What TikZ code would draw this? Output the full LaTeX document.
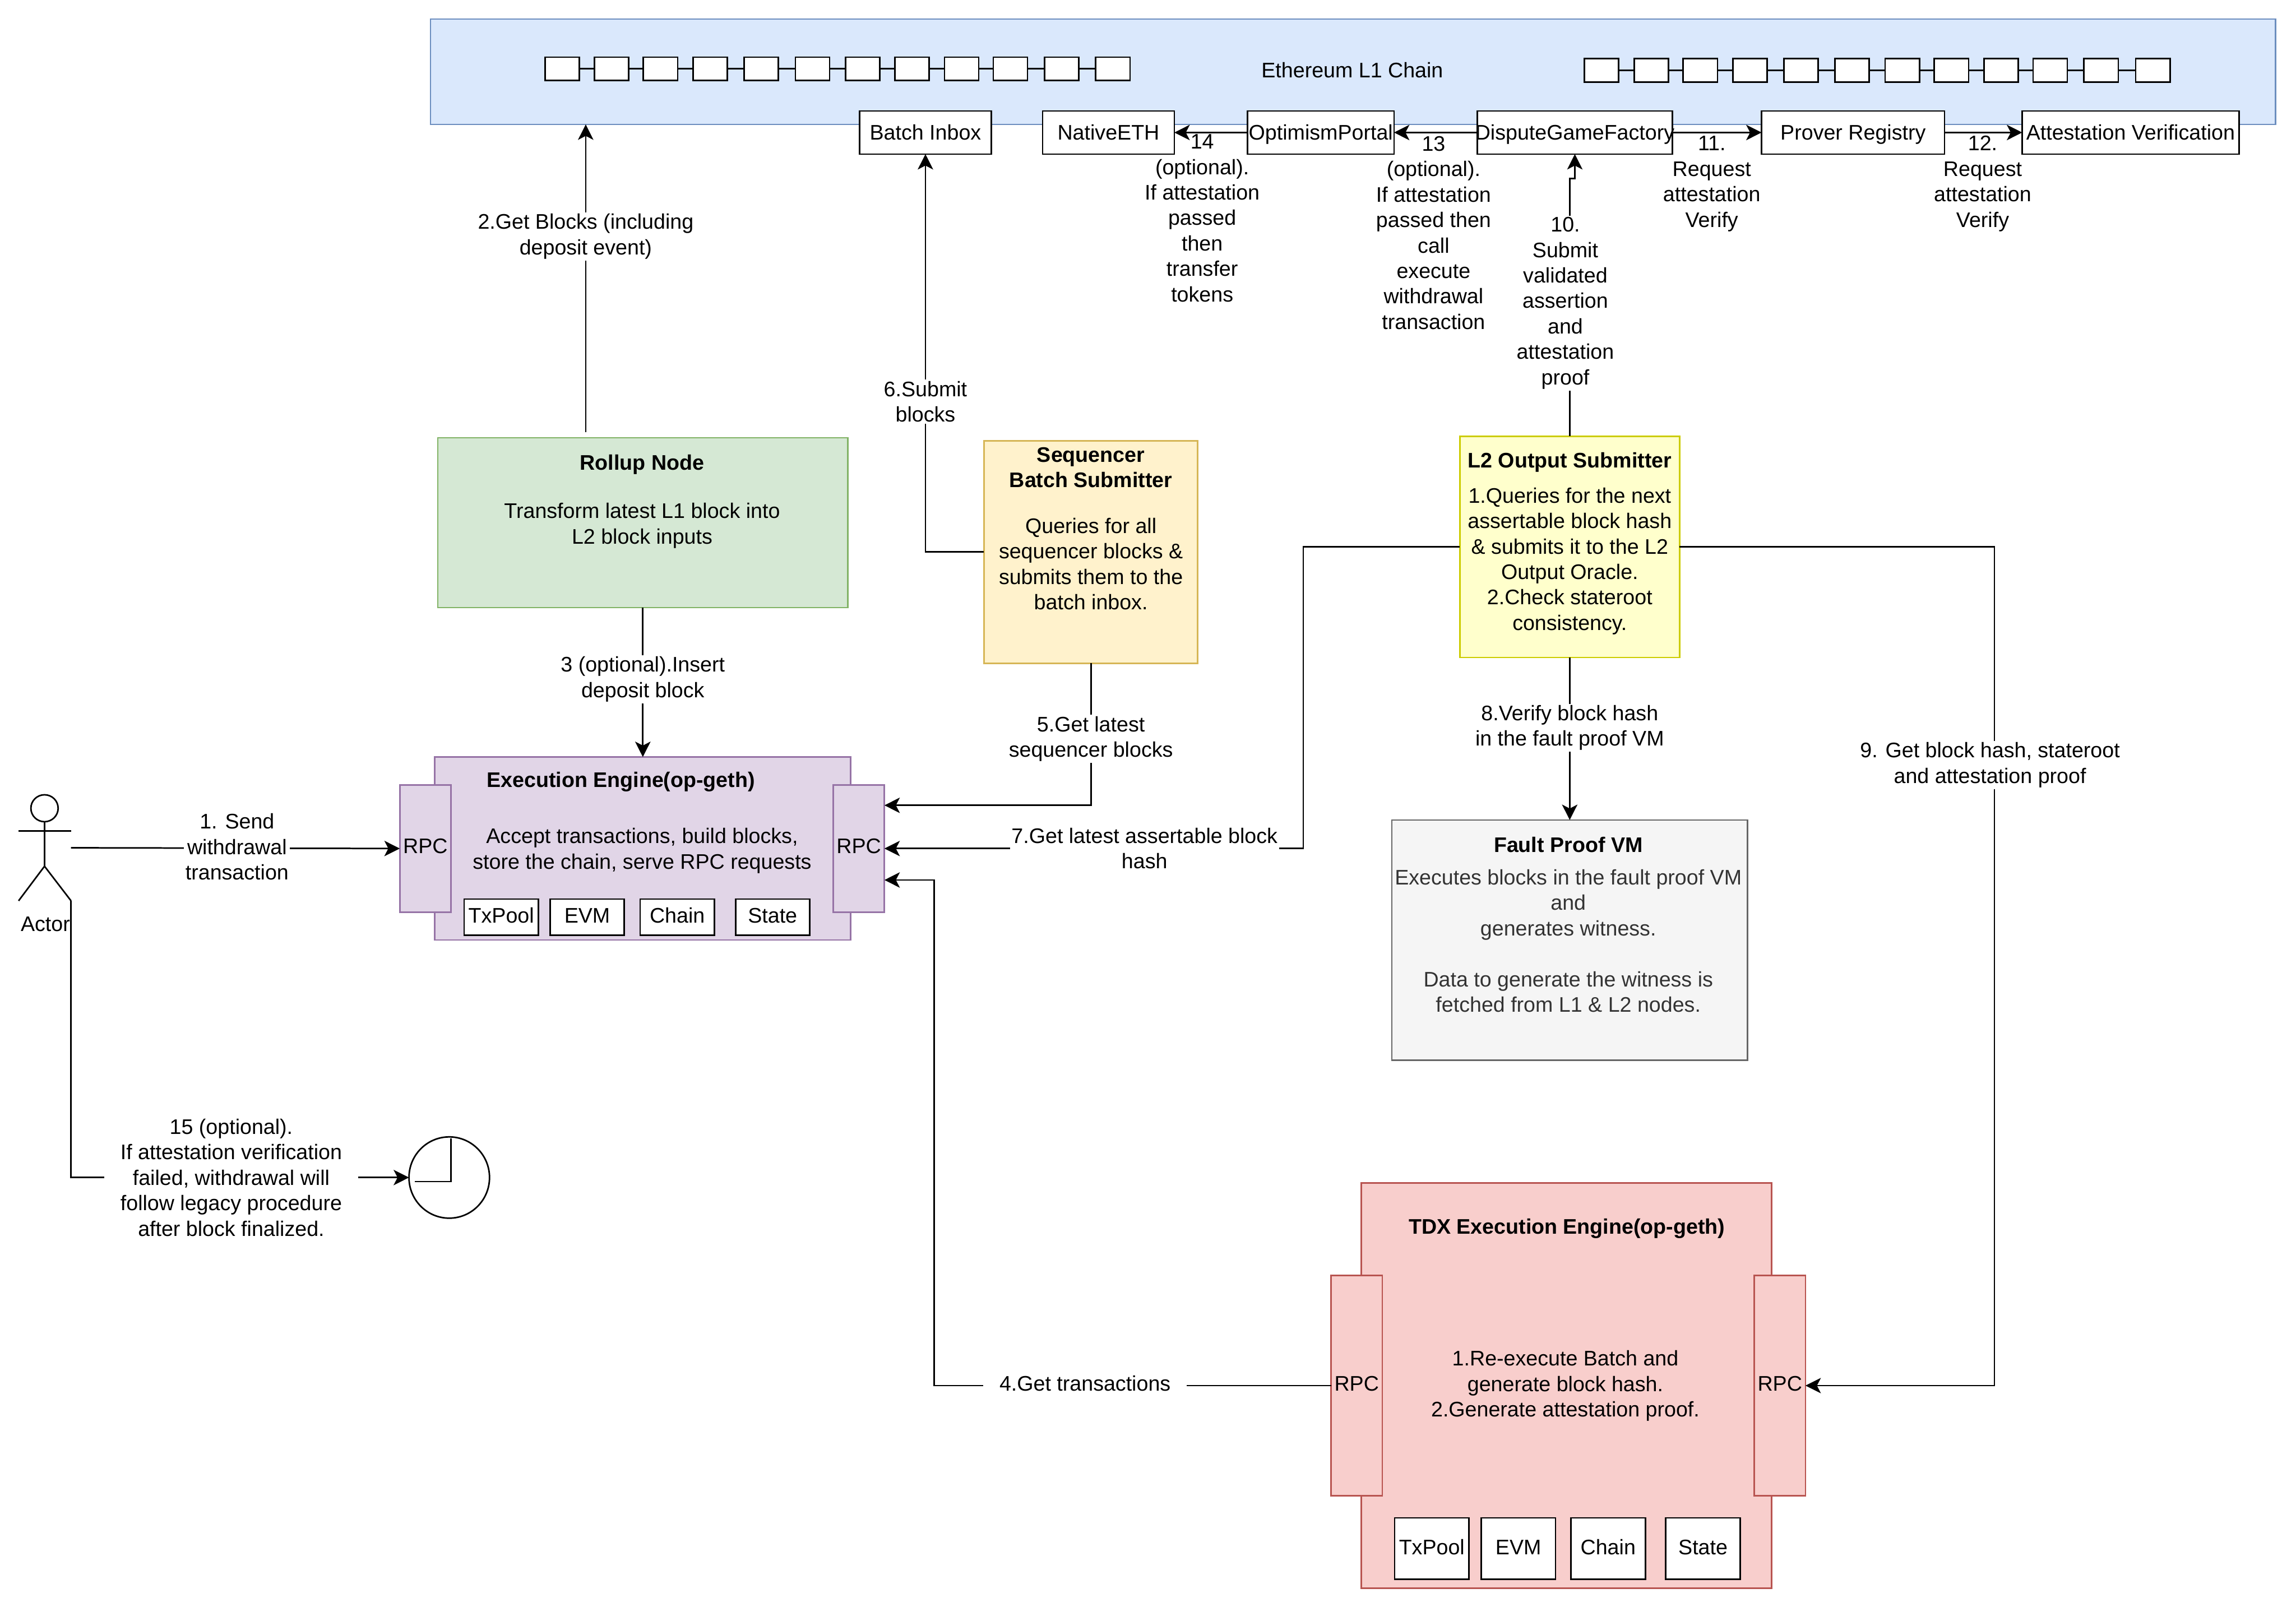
\documentclass[tikz,border=0pt]{standalone}
\usepackage{fontspec}
\setmainfont{Liberation Sans}
\usetikzlibrary{
  shapes,
  arrows.meta,
}
\definecolor{l1fill}{HTML}{DAE8FC}
\definecolor{l1line}{HTML}{6C8EBF}
\definecolor{rollfill}{HTML}{D5E8D4}
\definecolor{rollline}{HTML}{82B366}
\definecolor{seqfill}{HTML}{FFF2CC}
\definecolor{seqline}{HTML}{D6B656}
\definecolor{execfill}{HTML}{E1D5E7}
\definecolor{execline}{HTML}{9673A6}
\definecolor{subfill}{HTML}{FFFFCC}
\definecolor{subline}{HTML}{CCCC00}
\definecolor{vmfill}{HTML}{F5F5F5}
\definecolor{vmline}{HTML}{666666}
\definecolor{tdxfill}{HTML}{F8CECC}
\definecolor{tdxline}{HTML}{B85450}
\def\mylw{1.05pt}
\newcommand{\dgmfont}{\fontsize{14.4}{17.4}\selectfont}
\tikzset{
  font=\dgmfont,
  >={Stealth[length=10.5pt,width=10.5pt,inset=2.7pt]},
  sz/.style 2 args={
    minimum width=#1,
    minimum height=#2
  },
  my box/.style={
    draw,
    rectangle,
    inner sep=0pt,
    outer sep=0pt,
    align=center
  },
  contract/.style={
    my box,
    fill=white,
    text height=10.5pt,
    text depth=0.5pt,
    sz={#1}{29.5}
  },
  chain block/.style={
    my box,
    fill=white,
    sz={23.4}{16}
  },
  part/.style={
    my box,
    fill=white,
    text height=10.5pt,
    text depth=2.5pt
  },
  rpc exec/.style={
    my box,
    fill=execfill,
    draw=execline,
    text height=10.5pt,
    text depth=3.5pt,
    sz={35}{87}
  },
  rpc tdx/.style={
    my box,
    fill=tdxfill,
    draw=tdxline,
    text height=10.5pt,
    text depth=3.5pt,
    sz={35}{150.7}
  },
  txt/.style={
    inner sep=0pt,
    align=center
  },
  lbl/.style={
    fill=white,
    inner sep=1pt,
    align=center
  },
  lbl wide/.style={
    lbl,
    inner xsep=11pt
  },
  note/.style={
    inner sep=0pt,
    align=center
  }
}
\begin{document}
\begin{tikzpicture}[x=1pt,y=-1pt,line width=\mylw]
\useasboundingbox (0,0) rectangle (1568,1097.5);

\node[my box,fill=l1fill,draw=l1line,sz={1260}{72}] (l1) at (924,49) {};
\node[txt] (l1txt) at (923.5,48) {Ethereum L1 Chain};
\foreach \x [count=\i] in {372.3,406,439.4,473.2,508.2,543.2,577.4,611.2,645,678.3,713.3,748.3}
  \node[chain block,anchor=west] (a\i) at (\x,47) {};
\foreach \x [count=\i] in {1082,1116,1149.5,1183.5,1218.3,1253,1287.4,1321,1355,1388.4,1423.2,1458.5}
  \node[chain block,anchor=west] (b\i) at (\x,48) {};
\foreach \i [remember=\i as \j (initially 1)] in {2,...,12} {
  \draw (a\j) -- (a\i);
  \draw (b\j) -- (b\i);
}

\node[contract=90]  (batch)   at (632,90.5)    {Batch Inbox};
\node[contract=90]  (native)  at (757,90.5)    {NativeETH};
\node[contract=100] (portal)  at (902,90.5)    {OptimismPortal};
\node[contract=133] (dispute) at (1075.5,90.5) {\makebox[0pt]{DisputeGameFactory}};
\node[contract=125] (prover)  at (1265.5,90.5) {Prover Registry};
\node[contract=148] (attest)  at (1455,90.5)   {Attestation Verification};

\node[my box,fill=rollfill,draw=rollline,sz={280}{116}] (roll) at (439,357) {};
\node[txt] (rolltxt) at (438.5,342.5) {\textbf{Rollup Node}\\[15.6pt]Transform latest L1 block into\\L2 block inputs};

\node[my box,fill=seqfill,draw=seqline,sz={146}{152}] (seq) at (745,377) {};
\node[txt] (seqtxt) at (745,361) {\textbf{Sequencer}\\\textbf{Batch Submitter}\\[14pt]Queries for all\\sequencer blocks \&\\submits them to the\\batch inbox.};

\node[my box,fill=subfill,draw=subline,sz={150}{151}] (l2sub) at (1072,373.5) {};
\node[txt] (l2subtxt) at (1072,371.2) {\textbf{L2 Output Submitter}\\[6.6pt]1.Queries for the next\\assertable block hash\\\& submits it to the L2\\Output Oracle.\\2.Check stateroot\\consistency.};

\node[my box,fill=vmfill,draw=vmline,sz={243}{164}] (fvm) at (1072,642) {};
\node[txt,text=black!80] (fvmtxt) at (1071,631.5) {\textcolor{black}{\textbf{Fault Proof VM}}\\[4.6pt]Executes blocks in the fault proof VM\\and\\generates witness.\\[17.4pt]Data to generate the witness is\\fetched from L1 \& L2 nodes.};

\node[my box,fill=execfill,draw=execline,sz={284}{125}] (exec) at (439,579.5) {};
\node[txt] (exectitle) at (424,534) {\textbf{Execution Engine(op-geth)}};
\node[txt] (exectxt) at (438.5,581) {Accept transactions, build blocks,\\store the chain, serve RPC requests};
\node[rpc exec] (rpcl) at (290.5,579.5) {RPC};
\node[rpc exec] (rpcr) at (586.5,579.5) {RPC};
\node[part,sz={50.6}{24.6}] (expool)  at (342.3,626.3) {TxPool};
\node[part,sz={50.6}{24.6}] (exevm)   at (401,626.3)   {EVM};
\node[part,sz={50.6}{24.6}] (exchain) at (462.5,626.3) {Chain};
\node[part,sz={50.6}{24.6}] (exstate) at (527.6,626.3) {State};
\coordinate (rpcrtop) at (604,550);
\coordinate (rpcrlow) at (604,601);

\node[my box,fill=tdxfill,draw=tdxline,sz={280.3}{277}] (tdx) at (1069.8,946.3) {};
\node[txt] (tdxtitle) at (1070,839) {\textbf{TDX Execution Engine(op-geth)}};
\node[txt] (tdxtxt) at (1069,946.5) {1.Re-execute Batch and\\generate block hash.\\2.Generate attestation proof.};
\node[rpc tdx] (tdxl) at (926.5,946.3)  {RPC};
\node[rpc tdx] (tdxr) at (1215.5,946.3) {RPC};
\node[part,sz={50.8}{42}] (tdpool)  at (977.8,1057.6)  {TxPool};
\node[part,sz={50.8}{42}] (tdevm)   at (1036.9,1057.6) {EVM};
\node[part,sz={50.8}{42}] (tdchain) at (1098.2,1057.6) {Chain};
\node[part,sz={50.8}{42}] (tdstate) at (1163,1057.6)   {State};

\node[ellipse,draw,inner sep=0pt,outer sep=0pt,sz={18.6}{18.4}] (actor) at (30.4,552) {};
\coordinate (actorhip)  at (30.4,591.6);
\coordinate (actorhand) at (48.5,579);
\coordinate (actorfoot) at (48.5,615.2);
\draw (actor.south) -- (actorhip);
\draw (12.7,567.4) -- (48.5,567.4);
\draw (12.7,615.2) -- (actorhip) -- (actorfoot);
\node[txt] (actortxt) at (31,631) {Actor};

\node[ellipse,draw,inner sep=0pt,outer sep=0pt,sz={55}{55.5}] (clock) at (306.8,804.2) {};
\draw (308.1,777.5) -- (308.1,807) -- (283.4,807);

\coordinate (getsrc) at (400,295);
\coordinate (seven)  at (890,579.5);
\coordinate (four)   at (638,946.3);
\coordinate (nine)   at (1362,946.3);

\path[->] (getsrc)     edge node[lbl,pos=.636]{2.Get Blocks (including\\deposit event)} (getsrc |- l1.south)
          (roll.south) edge node[lbl,pos=.48]{3 (optional).Insert\\deposit block} (exec.north)
          (l2sub.south) edge node[lbl,pos=.433]{8.Verify block hash\\in the fault proof VM} (l2sub.south |- fvm.north)
          (actorhand)  edge node[lbl,pos=.505,yshift=1pt]{1. Send\\withdrawal\\transaction} (rpcl.west)
          (portal.west) edge (native.east)
          (dispute.west) edge (portal.east)
          (dispute.east) edge (prover.west)
          (prover.east) edge (attest.west);

\draw[->] (seq.west) -| node[lbl,pos=.689]{6.Submit\\blocks} (batch.south);
\draw[->] (seq.south) |- node[lbl,pos=.266]{5.Get latest\\sequencer blocks} (rpcrtop);
\draw[->] (l2sub.west) -| (seven) -- node[lbl,pos=.379]{7.Get latest assertable block\\hash} (rpcr.east);
\draw[->] (tdxl.west) -- node[lbl wide,pos=.62,yshift=1.5pt]{4.Get transactions} (four) |- (rpcrlow);
\draw[->] (l2sub.east) -| node[lbl,pos=.63,xshift=-3pt]{9. Get block hash, stateroot\\and attestation proof} (nine) -- (tdxr.east);
\draw[->] (l2sub.north) -- node[lbl,pos=.517,xshift=-3pt]{10.\\Submit\\validated\\assertion\\and\\attestation\\proof} (1072,122) -| (dispute.south);
\draw[->] (actorfoot) |- node[lbl wide,pos=.737]{15 (optional).\\If attestation verification\\failed, withdrawal will\\follow legacy procedure\\after block finalized.} (clock.west);

\node[note] (n14) at (821,149)  {14\\(optional).\\If attestation\\passed\\then\\transfer\\tokens};
\node[note] (n13) at (979,159)  {13\\(optional).\\If attestation\\passed then\\call\\execute\\withdrawal\\transaction};
\node[note] (n11) at (1169,125.5) {11.\\Request\\attestation\\Verify};
\node[note] (n12) at (1354,125.5) {12.\\Request\\attestation\\Verify};
\end{tikzpicture}
\end{document}
